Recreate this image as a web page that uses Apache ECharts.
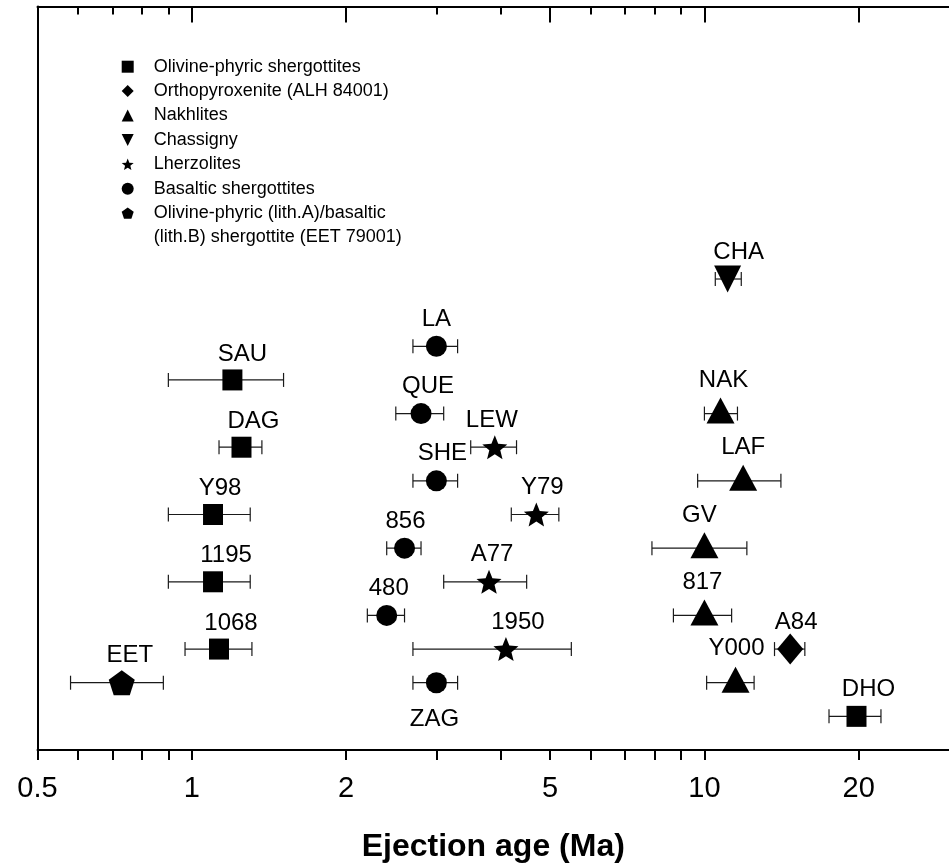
<!DOCTYPE html>
<html>
<head>
<meta charset="utf-8">
<title>Ejection age of Martian meteorites</title>
<script src="https://cdn.jsdelivr.net/npm/echarts@6/dist/echarts.min.js"></script>
<style>
  html, body { margin: 0; padding: 0; background: #fff; }
  #chartsDom { width: 949px; height: 868px; }
</style>
</head>
<body>
<div id="chartsDom"></div>
<script>
/* 数据 */
const groupNames = [
  'Olivine-phyric shergottites',
  'Orthopyroxenite (ALH 84001)',
  'Nakhlites',
  'Chassigny',
  'Lherzolites',
  'Basaltic shergottites',
  'Olivine-phyric (lith.A)/basaltic\n(lith.B) shergottite (EET 79001)'
];

const names   = ['SAU', 'DAG', 'Y98', '1195', '1068', 'DHO', 'EET', 'LA', 'QUE', 'SHE', '856', '480', 'ZAG',
                 'LEW', 'Y79', 'A77', '1950', 'CHA', 'NAK', 'LAF', 'GV', '817', 'Y000', 'A84'];
const groups  = [0, 0, 0, 0, 0, 0, 6, 5, 5, 5, 5, 5, 5,
                 4, 4, 4, 4, 3, 2, 2, 2, 2, 2, 1];
const ages    = [1.2, 1.25, 1.1, 1.1, 1.13, 19.8, 0.73, 3.0, 2.8, 3.0, 2.6, 2.4, 3.0,
                 3.9, 4.7, 3.8, 4.1, 11.1, 10.75, 11.9, 10.0, 10.0, 11.5, 14.7];
const ageLow  = [0.90, 1.13, 0.90, 0.90, 0.97, 17.5, 0.58, 2.7, 2.5, 2.7, 2.4, 2.2, 2.7,
                 3.5, 4.2, 3.1, 2.7, 10.5, 10.0, 9.7, 7.9, 8.7, 10.1, 13.7];
const ageHigh = [1.51, 1.37, 1.30, 1.30, 1.31, 22.1, 0.88, 3.3, 3.1, 3.3, 2.8, 2.6, 3.3,
                 4.3, 5.2, 4.5, 5.5, 11.8, 11.6, 14.1, 12.1, 11.3, 12.5, 15.7];
const rows    = [11, 9, 7, 5, 3, 1, 2, 12, 10, 8, 6, 4, 2,
                 9, 7, 5, 3, 14, 10, 8, 6, 4, 2, 3];

const labelTicks = [0.5, 1, 2, 5, 10, 20];
const majorTicks = [0.5, 1, 2, 5, 10, 20];
const allTicks = [0.5, 0.6, 0.7, 0.8, 0.9, 1, 2, 3, 4, 5, 6, 7, 8, 9, 10, 20];

/* 样式 */
const FONT = '"Liberation Sans", Arial, sans-serif';
const STAR = 'path://M50,0 L62.93,32.2 L97.55,34.55 L70.92,56.8 L79.39,90.45 L50,72 L20.61,90.45 L29.08,56.8 L2.45,34.55 L37.07,32.2 Z';
const PENTAGON = 'path://M50,0 L97.55,34.55 L79.39,90.45 L20.61,90.45 L2.45,34.55 Z';
const DOWN_TRI = 'path://M0,0 L100,0 L50,100 Z';
const groupSymbols = ['rect', 'diamond', 'triangle', DOWN_TRI, STAR, 'circle', PENTAGON];
const groupSizes = [[20, 21], [26, 31], [28, 26], [27, 27], [25, 24], [21, 21], [26, 25]];
const groupOffsets = [[0, 0], [0, 0], [0, -3], [0, 0], [0, 0], [0, 0], [0, 0]];
// 标签偏移 (相对点中心)
const labelShift = {
  SAU: [10, -26], DAG: [12, -26], Y98: [7, -26], '1195': [13, -26], '1068': [12, -26], DHO: [12, -27],
  EET: [8, -27], LA: [0, -27], QUE: [7, -27], SHE: [6, -27], '856': [1, -27], '480': [2, -27], ZAG: [-2, 37],
  LEW: [-3, -27], Y79: [6, -27], A77: [3, -27], '1950': [12, -27], CHA: [11, -27],
  NAK: [3, -30], LAF: [0, -30], GV: [-5, -30], '817': [-2, -30], Y000: [1, -31], A84: [6, -27]
};

const chartsDom = echarts.init(document.getElementById('chartsDom'));

/* 误差棒 */
function renderErrorBar(params, api) {
  const y = api.value(2);
  const lo = api.coord([api.value(0), y]);
  const hi = api.coord([api.value(1), y]);
  const cap = 7;
  const style = { stroke: '#1a1a1a', lineWidth: 1.2 };
  return {
    type: 'group',
    children: [
      { type: 'line', shape: { x1: lo[0], y1: lo[1], x2: hi[0], y2: hi[1] }, style: style },
      { type: 'line', shape: { x1: lo[0], y1: lo[1] - cap, x2: lo[0], y2: lo[1] + cap }, style: style },
      { type: 'line', shape: { x1: hi[0], y1: hi[1] - cap, x2: hi[0], y2: hi[1] + cap }, style: style }
    ]
  };
}

const errorData = names.map((n, i) => [ageLow[i], ageHigh[i], rows[i]]);

const scatterSeries = groupNames.map((g, gi) => ({
  name: g,
  type: 'scatter',
  symbol: groupSymbols[gi],
  symbolSize: groupSizes[gi],
  symbolOffset: groupOffsets[gi],
  symbolKeepAspect: false,
  itemStyle: { color: '#000', opacity: 1 },
  z: 3,
  label: {
    show: true,
    position: 'inside',
    formatter: '{b}',
    color: '#000',
    fontFamily: FONT,
    fontSize: 24
  },
  data: names
    .map((n, i) => ({ i: i, n: n }))
    .filter(d => groups[d.i] === gi)
    .map(d => ({
      name: d.n,
      value: [ages[d.i], rows[d.i]],
      label: { offset: labelShift[d.n] || [0, -27] }
    }))
}));

const logAxisBase = {
  type: 'log',
  logBase: 10,
  min: 0.5,
  max: 30,
  splitLine: { show: false },
  minorTick: { show: false }
};

let option = {
  animation: false,
  grid: {
    left: 37.5,
    top: 6.5,
    width: 915,
    bottom: 116
  },
  legend: {
    orient: 'vertical',
    left: 121.7,
    top: 54.5,
    padding: 0,
    itemWidth: 12,
    itemHeight: 12,
    itemGap: 0,
    selectedMode: false,
    data: groupNames,
    formatter: name => name.split('\n')[0],
    textStyle: { fontFamily: FONT, fontSize: 18, color: '#000', lineHeight: 24.4, padding: [0, 0, 0, 15] },
    itemStyle: { color: '#000' }
  },
  graphic: [
    {
      type: 'text',
      left: 153.7,
      top: 228,
      style: {
        text: groupNames[6].split('\n')[1],
        fontFamily: FONT,
        fontSize: 18,
        fill: '#000'
      }
    }
  ],
  xAxis: [
    Object.assign({}, logAxisBase, {
      position: 'bottom',
      name: 'Ejection age (Ma)',
      nameLocation: 'middle',
      nameGap: 81,
      nameTextStyle: { fontFamily: FONT, fontSize: 32, fontWeight: 'bold', color: '#000' },
      axisLine: { show: true, lineStyle: { color: '#000', width: 2 } },
      axisTick: { show: true, inside: false, length: 10, customValues: allTicks, lineStyle: { color: '#000', width: 2 } },
      axisLabel: { show: true, customValues: labelTicks, margin: 24, fontFamily: FONT, fontSize: 29, color: '#000' }
    }),
    Object.assign({}, logAxisBase, {
      position: 'top',
      axisLine: { show: true, lineStyle: { color: '#000', width: 2 } },
      axisTick: { show: true, inside: true, length: 16, customValues: majorTicks, lineStyle: { color: '#000', width: 2 } },
      axisLabel: { show: false }
    }),
    Object.assign({}, logAxisBase, {
      position: 'top',
      axisLine: { show: false },
      axisTick: { show: true, inside: true, length: 8, customValues: allTicks, lineStyle: { color: '#000', width: 2 } },
      axisLabel: { show: false }
    })
  ],
  yAxis: {
    type: 'value',
    min: 0,
    max: 22.1,
    axisLine: { show: true, onZero: false, lineStyle: { color: '#000', width: 2 } },
    axisTick: { show: false },
    axisLabel: { show: false },
    splitLine: { show: false }
  },
  series: [
    {
      name: 'error',
      type: 'custom',
      renderItem: renderErrorBar,
      encode: { x: [0, 1], y: 2 },
      z: 2,
      silent: true,
      data: errorData
    }
  ].concat(scatterSeries)
};

/* 渲染 */
option && chartsDom.setOption(option);
</script>
</body>
</html>
